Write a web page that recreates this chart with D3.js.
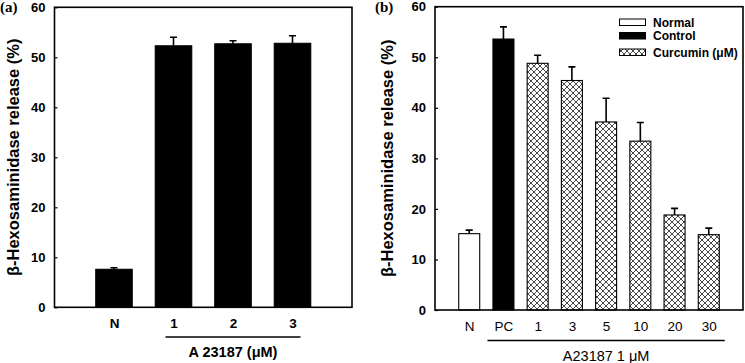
<!DOCTYPE html>
<html><head><meta charset="utf-8">
<script src="https://cdn.jsdelivr.net/npm/d3@7"></script>
<style>body{margin:0;background:#fff}svg{display:block}</style>
</head><body>
<svg id="c" width="745" height="363"></svg>
<script>
// Panel (a)
const catsA = ["N", "1", "2", "3"];
const valsA = [7.6, 52.3, 52.7, 52.8];
const errA = [0.3, 1.7, 0.6, 1.5];
// Panel (b)
const catsB = ["N", "PC", "1", "3", "5", "10", "20", "30"];
const valsB = [15.1, 53.6, 48.8, 45.4, 37.2, 33.4, 18.8, 14.9];
const errB = [0.7, 2.4, 1.6, 2.7, 4.7, 3.7, 1.3, 1.3];
const groupB = ["Normal", "Control", "Curcumin", "Curcumin", "Curcumin", "Curcumin", "Curcumin", "Curcumin"];
const legendB = ["Normal", "Control", "Curcumin (\u03bcM)"];
const yTicks = [0, 10, 20, 30, 40, 50, 60];

const svg = d3.select("#c");
const defs = svg.append("defs");
const pat = defs.append("pattern").attr("id", "hatch").attr("patternUnits", "userSpaceOnUse")
  .attr("width", 6).attr("height", 6);
pat.append("rect").attr("width", 6).attr("height", 6).attr("fill", "#fff");
pat.append("path").attr("d", "M0,0L6,6M6,0L0,6M-1,5L1,7M5,-1L7,1M-1,1L1,-1M5,7L7,5")
  .attr("stroke", "#333").attr("stroke-width", 0.9);

const fill = g => g === "Normal" ? "#fff" : g === "Control" ? "#000" : "url(#hatch)";
const FONT = "Liberation Sans, Arial, sans-serif";

function panel(opt) {
  const g = svg.append("g");
  const x = d3.scaleLinear().domain([0, opt.cats.length + 1]).range([opt.left, opt.right]);
  const y = d3.scaleLinear().domain([0, 60]).range([opt.bottom, opt.top]);
  // y axis
  const ya = g.append("g").attr("transform", `translate(${opt.left},0)`)
    .call(d3.axisLeft(y).tickValues(yTicks).tickSize(-3).tickPadding(9));
  ya.select(".domain").remove();
  ya.selectAll("line").attr("stroke", "#000").attr("stroke-width", 1.2);
  ya.selectAll("text").attr("font-family", FONT).attr("font-weight", "bold")
    .attr("font-size", 13).attr("fill", "#000");
  // bars
  const idx = d3.range(opt.cats.length);
  g.selectAll("rect.bar").data(idx).join("rect").attr("class", "bar")
    .attr("x", i => x(i + 1) - opt.bw / 2).attr("width", opt.bw)
    .attr("y", i => y(opt.vals[i])).attr("height", i => y(0) - y(opt.vals[i]))
    .attr("fill", i => opt.fill(i)).attr("stroke", "#000").attr("stroke-width", 1.1);
  // error bars
  g.selectAll("path.err").data(idx).join("path").attr("class", "err")
    .attr("d", i => {
      const cx = x(i + 1), y0 = y(opt.vals[i]), y1 = y(opt.vals[i] + opt.errs[i]);
      return `M${cx},${y0}V${y1}M${cx - 3.5},${y1}H${cx + 3.5}`;
    })
    .attr("stroke", "#000").attr("stroke-width", 1.6).attr("fill", "none");
  // x labels
  const xa = g.append("g").attr("transform", `translate(0,${opt.bottom})`)
    .call(d3.axisBottom(x).tickValues(idx.map(i => i + 1)).tickFormat(v => opt.cats[v - 1]).tickSize(0).tickPadding(11));
  xa.select(".domain").remove();
  xa.selectAll("text").attr("font-family", FONT).attr("font-weight", opt.xBold ? "bold" : "normal")
    .attr("font-size", 13.5).attr("fill", "#000");
  // frame
  g.append("rect").attr("x", opt.left).attr("y", opt.top).attr("width", opt.right - opt.left)
    .attr("height", opt.bottom - opt.top).attr("fill", "none").attr("stroke", "#000").attr("stroke-width", 1.6);
  // group line and label
  const i0 = opt.lineFrom, i1 = opt.lineTo;
  g.append("line").attr("x1", x(i0 + 1) - opt.lineExt).attr("x2", x(i1 + 1) + opt.lineExt)
    .attr("y1", opt.lineY).attr("y2", opt.lineY).attr("stroke", "#000").attr("stroke-width", 1.3);
  g.append("text").attr("x", (x(i0 + 1) + x(i1 + 1)) / 2).attr("y", opt.lineY + 20)
    .attr("text-anchor", "middle").attr("font-family", FONT).attr("font-weight", opt.xBold ? "bold" : "normal")
    .attr("font-size", 14.5).text(opt.groupLabel);
  // y title
  g.append("text").attr("transform", `translate(${opt.titleX},${(opt.top + opt.bottom) / 2}) rotate(-90)`)
    .attr("text-anchor", "middle").attr("font-family", FONT).attr("font-weight", "bold")
    .attr("font-size", 16.5).text("\u03b2-Hexosaminidase release (%)");
  // panel letter
  g.append("text").attr("x", opt.letterX).attr("y", 12).attr("font-family", "Liberation Serif, Times New Roman, serif")
    .attr("font-weight", "bold").attr("font-size", 15).text(opt.letter);
  return {g, x, y};
}

panel({cats: catsA, vals: valsA, errs: errA, fill: () => "#000",
  left: 54.5, right: 352, top: 7.3, bottom: 307.3, bw: 36.5, xBold: true,
  lineFrom: 1, lineTo: 3, lineExt: 8, lineY: 337, groupLabel: "A 23187 (\u03bcM)",
  titleX: 19, letter: "(a)", letterX: 0});

const pb = panel({cats: catsB, vals: valsB, errs: errB, fill: i => fill(groupB[i]),
  left: 435, right: 743, top: 6.7, bottom: 310, bw: 21, xBold: false,
  lineFrom: 1, lineTo: 7, lineExt: 16, lineY: 340.5, groupLabel: "A23187 1 \u03bcM",
  titleX: 393, letter: "(b)", letterX: 375});

// legend
const lg = pb.g.append("g");
legendB.forEach((name, i) => {
  const yy = [19, 32.5, 49][i];
  lg.append("rect").attr("x", 619.5).attr("y", yy).attr("width", 26).attr("height", 6.5)
    .attr("fill", fill(["Normal", "Control", "Curcumin"][i])).attr("stroke", "#000").attr("stroke-width", 1);
  lg.append("text").attr("x", 653).attr("y", yy + 7.5).attr("font-family", FONT).attr("font-weight", "bold")
    .attr("font-size", 12).text(name);
});
</script>
</body></html>
